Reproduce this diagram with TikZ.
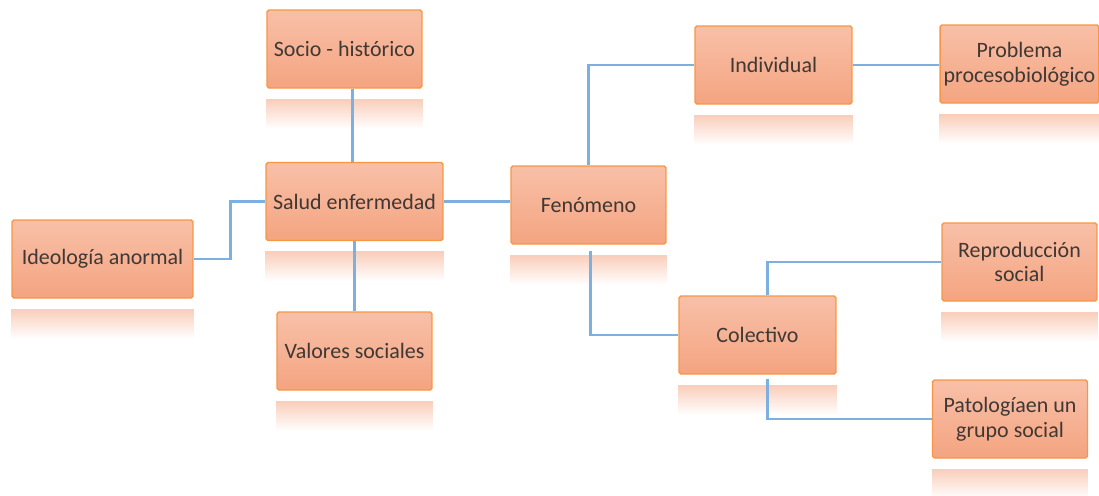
\documentclass[tikz,border=0pt]{standalone}
\usepackage{fontspec}
\setmainfont{Carlito}
\usepackage{tikz}
\usetikzlibrary{positioning}
\usetikzlibrary{calc}
\usetikzlibrary{backgrounds}
\usetikzlibrary{fadings}

\definecolor{boxtop}{RGB}{248,192,168}
\definecolor{boxbot}{RGB}{244,164,128}
\definecolor{boxline}{RGB}{247,150,70}
\definecolor{linkblue}{RGB}{125,175,225}
\definecolor{textgray}{RGB}{64,56,52}

\tikzset{
  concept/.style={draw=boxline, line width=0.8pt, rounded corners=1pt,
    top color=boxtop, bottom color=boxbot, text=textgray,
    minimum width=3.1cm, minimum height=1.56cm, align=center,
    font=\fontsize{12.5}{14}\selectfont, inner sep=2pt},
  link/.style={draw=linkblue, line width=1.4pt},
  reflect/.style={fill=boxbot!55, path fading=south, draw=none}
}

\begin{document}
\begin{tikzpicture}[x=0.02cm,y=-0.02cm]

\useasboundingbox (0,0) rectangle (1099,495);

% Left part
\node[concept] (socio) at (344.5,49) {Socio - histórico};
\node[concept, minimum width=3.54cm] (salud) at (354.5,201.5) {Salud enfermedad};
\node[concept, minimum width=3.62cm] (ideologia) at (102.5,259) {Ideología anormal};
\node[concept] (valores) at (354.5,351) {Valores sociales};

% Middle
\node[concept] (fenomeno) at (588.5,205) {Fenómeno};
\node[concept, minimum width=3.14cm] (individual) at (773.5,65) {Individual};
\node[concept, minimum width=3.14cm] (colectivo) at (757.5,335) {Colectivo};

% Right part
\node[concept] (problema) at (1019.5,64) {Problema\\procesobiológico};
\node[concept] (reproduccion) at (1019.5,262) {Reproducción\\social};
\node[concept] (patologia) at (1010,419) {Patologíaen un\\grupo social};

\begin{pgfonlayer}{background}
% Reflections below the boxes
\foreach \n in {socio,salud,ideologia,valores,fenomeno,individual,colectivo,problema,reproduccion,patologia}
  \path[reflect] ($(\n.south west)+(0,10)$) rectangle ($(\n.south east)+(0,40)$);

% Connectors
\draw[link] ($(socio.south)+(8,0)$) -- ($(salud.north)+(-2,0)$);
\draw[link] (salud.south) -- (valores.north);
\draw[link] (salud.west) -- ($(salud.west)+(-35,0)$) |- (ideologia.east);
\draw[link] (salud.east) -- (salud.east -| fenomeno.west);
\draw[link] (fenomeno.north) |- (individual.west);
\draw[link] (individual.east) -- (individual.east -| problema.west);
\draw[link] ($(fenomeno.south)+(2,6)$) |- (colectivo.west);
\draw[link] ($(colectivo.north)+(10,0)$) |- (reproduccion.west);
\draw[link] ($(colectivo.south)+(10,4)$) |- (patologia.west);
\end{pgfonlayer}

\end{tikzpicture}
\end{document}
